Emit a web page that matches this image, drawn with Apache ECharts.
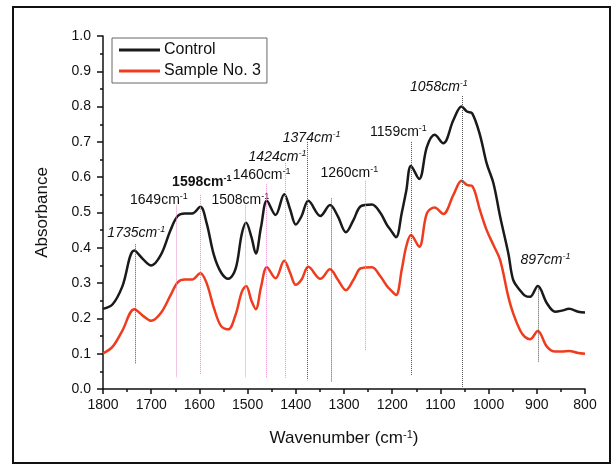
<!DOCTYPE html>
<html>
<head>
<meta charset="utf-8">
<script src="https://cdn.jsdelivr.net/npm/echarts@6/dist/echarts.min.js"></script>
<style>
  html, body { margin: 0; padding: 0; background: #fff; }
  #main { width: 615px; height: 466px; }
</style>
</head>
<body>
<div id="main"></div>
<script>
// spectra
var wavenumbers = [1800, 1780, 1760, 1735, 1715, 1700, 1680, 1660, 1645, 1630, 1615, 1598, 1585, 1570, 1555, 1540, 1525, 1512, 1503, 1492, 1483, 1472, 1460, 1442, 1424, 1412, 1400, 1388, 1374, 1349, 1329, 1313, 1296, 1280, 1265, 1242, 1225, 1211, 1203, 1192, 1180, 1171, 1161, 1144, 1128, 1112, 1094, 1073, 1056, 1045, 1034, 1018, 1004, 990, 976, 959, 949, 935, 925, 914, 898, 879, 862, 848, 833, 814, 800];
var control = [0.227, 0.24, 0.29, 0.392, 0.365, 0.35, 0.38, 0.45, 0.49, 0.497, 0.497, 0.516, 0.47, 0.38, 0.33, 0.312, 0.34, 0.44, 0.471, 0.43, 0.384, 0.46, 0.533, 0.493, 0.552, 0.51, 0.466, 0.49, 0.533, 0.49, 0.521, 0.49, 0.444, 0.48, 0.518, 0.523, 0.50, 0.465, 0.45, 0.43, 0.50, 0.56, 0.632, 0.595, 0.686, 0.72, 0.696, 0.762, 0.80, 0.786, 0.781, 0.72, 0.639, 0.583, 0.488, 0.384, 0.309, 0.28, 0.265, 0.261, 0.292, 0.243, 0.219, 0.222, 0.227, 0.219, 0.217];
var sample3 = [0.101, 0.12, 0.165, 0.226, 0.205, 0.193, 0.215, 0.265, 0.302, 0.31, 0.31, 0.328, 0.30, 0.23, 0.178, 0.169, 0.21, 0.275, 0.292, 0.25, 0.226, 0.29, 0.345, 0.314, 0.363, 0.33, 0.295, 0.31, 0.346, 0.312, 0.339, 0.31, 0.28, 0.31, 0.342, 0.345, 0.32, 0.292, 0.28, 0.266, 0.34, 0.403, 0.436, 0.403, 0.498, 0.514, 0.496, 0.55, 0.59, 0.578, 0.575, 0.507, 0.45, 0.408, 0.365, 0.261, 0.214, 0.167, 0.148, 0.141, 0.164, 0.12, 0.106, 0.106, 0.108, 0.102, 0.10];

// dotted peak markers
var markWave = [1733, 1647, 1598, 1504, 1462, 1422, 1377, 1327, 1255, 1161, 1054, 898];
var markTop = [0.41, 0.52, 0.55, 0.52, 0.58, 0.64, 0.70, 0.54, 0.59, 0.70, 0.83, 0.29];
var markBottom = [0.07, 0.032, 0.04, 0.032, 0.032, 0.032, 0.025, 0.02, 0.108, 0.04, 0.0, 0.077];
var markGroup = ['k', 'p', 'p', 'p', 'p', 'p', 'k', 'k', 'p', 'k', 'k', 'k'];

// peak labels
var peakText = ['1735', '1649', '1598', '1508', '1460', '1424', '1374', '1260', '1159', '1058', '897'];
var peakLabelX = [1731, 1684, 1595, 1515, 1471, 1438, 1367, 1289, 1187, 1103, 882];
var peakLabelY = [0.442, 0.535, 0.587, 0.535, 0.606, 0.658, 0.71, 0.611, 0.729, 0.856, 0.365];
var peakFont = ['italic', 'normal', 'bold', 'normal', 'normal', 'italic', 'italic', 'normal', 'normal', 'italic', 'italic'];

var chart = echarts.init(document.getElementById('main'));

var fontFam = 'Liberation Sans, Arial, sans-serif';

var markLines = markWave.map(function (w, i) {
    return [
        { coord: [w, markTop[i]], lineStyle: { color: markGroup[i] == 'p' ? '#ee88cc' : '#555' } },
        { coord: [w, markBottom[i]] }
    ];
});

var labelData = peakText.map(function (t, i) {
    var st = peakFont[i] == 'italic' ? 'italic' : 'normal';
    var wt = peakFont[i] == 'bold' ? 'bold' : 'normal';
    return {
        value: [peakLabelX[i], peakLabelY[i]],
        label: {
            formatter: '{a|' + t + 'cm}{s|-1}',
            textBorderWidth: 0,
            rich: {
                a: { fontSize: 14, fontStyle: st, fontWeight: wt, color: '#111', fontFamily: fontFam, textBorderWidth: 0 },
                s: { fontSize: 9, fontStyle: st, fontWeight: wt, color: '#111', fontFamily: fontFam, textBorderWidth: 0, verticalAlign: 'top', padding: [0, 0, 7, 0] }
            }
        }
    };
});

function pairs(ys) {
    return wavenumbers.map(function (w, i) { return [w, ys[i]]; });
}

var option = {
    animation: false,
    backgroundColor: '#fff',
    graphic: [{
        type: 'rect',
        shape: { x: 13, y: 7, width: 597, height: 456 },
        style: { fill: 'none', stroke: '#111', lineWidth: 2 },
        silent: true
    }],
    grid: { left: 103, right: 30, top: 36, bottom: 77 },
    legend: {
        orient: 'vertical',
        left: 112,
        top: 38,
        data: ['Control', 'Sample No. 3'],
        icon: 'rect',
        itemWidth: 41,
        itemHeight: 3,
        itemGap: 5,
        padding: [4, 6, 4, 7],
        borderColor: '#666',
        borderWidth: 1,
        textStyle: { fontSize: 16, color: '#111', fontFamily: fontFam, padding: [0, 0, 0, -1] }
    },
    xAxis: {
        type: 'value',
        min: 800,
        max: 1800,
        interval: 100,
        inverse: true,
        name: '{a|Wavenumber (cm}{s|-1}{a|)}',
        nameLocation: 'middle',
        nameGap: 40,
        nameTextStyle: {
            rich: {
                a: { fontSize: 17, color: '#111', fontFamily: fontFam },
                s: { fontSize: 11, color: '#111', fontFamily: fontFam, verticalAlign: 'top', padding: [0, 0, 8, 0] }
            }
        },
        axisLine: { lineStyle: { color: '#111', width: 1.5 } },
        axisTick: { length: 5, lineStyle: { color: '#111', width: 1.5 } },
        minorTick: { show: true, splitNumber: 2, length: 3, lineStyle: { color: '#111', width: 1.5 } },
        splitLine: { show: false },
        axisLabel: {
            fontSize: 14, color: '#111', fontFamily: fontFam, margin: 9,
            formatter: function (v) { return String(v); }
        }
    },
    yAxis: {
        type: 'value',
        min: 0,
        max: 1,
        interval: 0.1,
        name: 'Absorbance',
        nameLocation: 'middle',
        nameGap: 52,
        nameTextStyle: { fontSize: 17, color: '#111', fontFamily: fontFam },
        axisLine: { show: true, lineStyle: { color: '#111', width: 1.5 } },
        axisTick: { show: true, length: 6, lineStyle: { color: '#111', width: 1.5 } },
        minorTick: { show: true, splitNumber: 2, length: 3, lineStyle: { color: '#111', width: 1.5 } },
        splitLine: { show: false },
        axisLabel: {
            fontSize: 14, color: '#111', fontFamily: fontFam, margin: 12,
            formatter: function (v) { return v.toFixed(1); }
        }
    },
    series: [
        {
            name: 'Control',
            type: 'line',
            data: pairs(control),
            smooth: 0.35,
            showSymbol: false,
            color: '#1a1a1a',
            lineStyle: { width: 2.5, color: '#1a1a1a' },
            z: 3,
            markLine: {
                silent: true,
                symbol: 'none',
                label: { show: false },
                lineStyle: { type: 'dotted', width: 1 },
                data: markLines
            }
        },
        {
            name: 'Sample No. 3',
            type: 'line',
            data: pairs(sample3),
            smooth: 0.35,
            showSymbol: false,
            color: '#f03c1e',
            lineStyle: { width: 2.5, color: '#f03c1e' },
            z: 3
        },
        {
            name: 'labels',
            type: 'scatter',
            symbolSize: 0,
            silent: true,
            itemStyle: { opacity: 1 },
            label: { show: true, position: 'inside', textBorderWidth: 0, opacity: 1 },
            data: labelData,
            z: 4
        }
    ]
};
chart.setOption(option);
</script>
</body>
</html>
